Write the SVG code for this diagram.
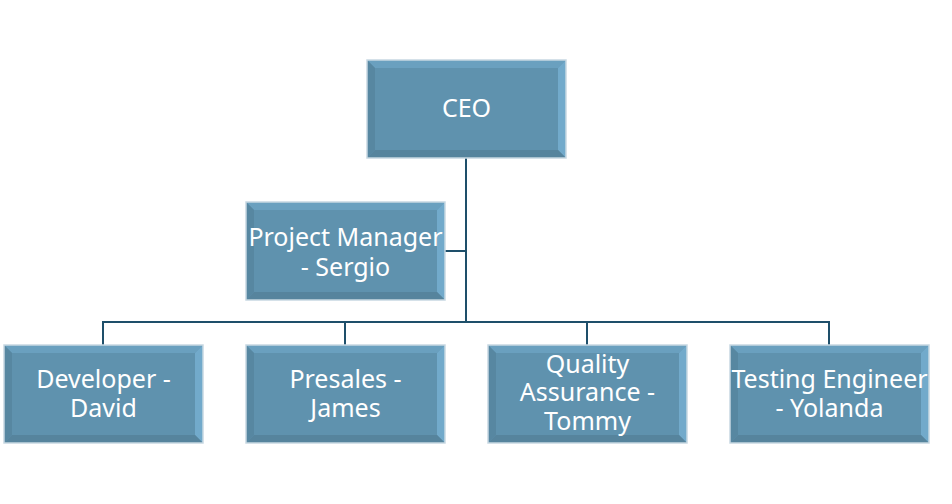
<svg xmlns="http://www.w3.org/2000/svg" width="952" height="504" viewBox="0 0 952 504">
<defs>
<style>
.lbl{font-family:"Noto Sans","Open Sans","Liberation Sans",sans-serif;font-size:25px;fill:#ffffff;text-anchor:middle}
.con{fill:none;stroke:#1e4f6a;stroke-width:2}
</style>
<symbol id="box" viewBox="0 0 199 98" width="199" height="98" overflow="visible">
<rect x="0" y="0" width="199" height="98" fill="#5f92ae"/>
<polygon points="0,0 199,0 191,8 8,8" fill="#6aa0bf"/>
<polygon points="0,0 8,8 8,90 0,98" fill="#5787a1"/>
<polygon points="199,0 199,98 191,90 191,8" fill="#72aacb"/>
<polygon points="0,98 8,90 191,90 199,98" fill="#56849d"/>
<rect x="8" y="8" width="183" height="82" fill="#5f92ae"/>
<rect x="0" y="0" width="199" height="98" fill="none" stroke="#c7d8e2" stroke-width="1.5"/>
</symbol>
</defs>
<rect width="952" height="504" fill="#ffffff"/>
<g id="connectors">
<path class="con" d="M466,158 V322"/>
<path class="con" d="M444,251 H466"/>
<path class="con" d="M103,345 V322 H829 V345"/>
<path class="con" d="M345,322 V345"/>
<path class="con" d="M587,322 V345"/>
</g>
<g id="ceo"><use href="#box" x="367" y="60"/><text class="lbl" x="466.5" y="117">CEO</text></g>
<g id="pm"><use href="#box" x="246" y="202"/><text class="lbl" x="345.5" y="246">Project Manager</text><text class="lbl" x="345.5" y="276">- Sergio</text></g>
<g id="dev"><use href="#box" x="4" y="345"/><text class="lbl" x="103.5" y="388">Developer -</text><text class="lbl" x="103.5" y="417">David</text></g>
<g id="presales"><use href="#box" x="246" y="345"/><text class="lbl" x="345.5" y="388">Presales -</text><text class="lbl" x="345.5" y="417">James</text></g>
<g id="qa"><use href="#box" x="488" y="345"/><text class="lbl" x="587.5" y="373">Quality</text><text class="lbl" x="587.5" y="401">Assurance -</text><text class="lbl" x="587.5" y="430">Tommy</text></g>
<g id="tester"><use href="#box" x="730" y="345"/><text class="lbl" x="829.5" y="388">Testing Engineer</text><text class="lbl" x="829.5" y="417">- Yolanda</text></g>
</svg>
